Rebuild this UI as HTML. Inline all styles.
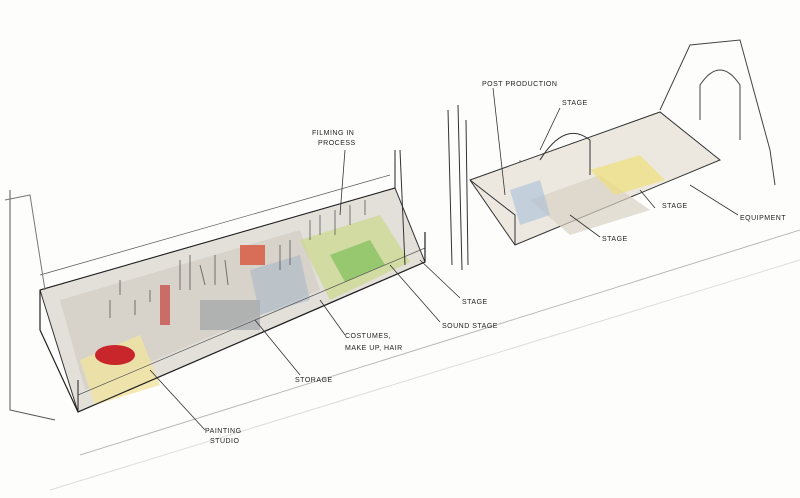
<!DOCTYPE html>
<html><head><meta charset="utf-8"><style>
html,body{margin:0;padding:0;background:#fff;width:800px;height:498px;overflow:hidden}
svg text{font-family:"Liberation Sans",sans-serif;font-size:7px;fill:#222;letter-spacing:0.5px}
</style></head><body>
<svg width="800" height="498" viewBox="0 0 800 498" xmlns="http://www.w3.org/2000/svg">
<rect width="800" height="498" fill="#fdfdfc"/>
<!-- left building floor -->
<polygon points="40,290 395,188 425,262 78,412" fill="#e3e0da" stroke="#333" stroke-width="1"/>
<polygon points="60,300 300,230 320,290 85,390" fill="#cfcac2" opacity="0.6"/>
<polygon points="300,240 380,215 410,262 330,300" fill="#c9d98a" opacity="0.7"/>
<polygon points="330,255 370,240 385,265 345,282" fill="#7fbf5a" opacity="0.7"/>
<polygon points="80,360 140,335 160,385 95,405" fill="#f1e3a0" opacity="0.8"/>
<ellipse cx="115" cy="355" rx="20" ry="10" fill="#c8262a"/>
<rect x="240" y="245" width="25" height="20" fill="#d8553a" opacity="0.8"/>
<rect x="160" y="285" width="10" height="40" fill="#c8403a" opacity="0.7"/>
<rect x="200" y="300" width="60" height="30" fill="#8a8f97" opacity="0.5"/>
<polygon points="250,270 300,255 310,300 260,315" fill="#9fb4c8" opacity="0.5"/>
<!-- scribble detail -->
<g stroke="#444" stroke-width="1" fill="none" opacity="0.7">
<path d="M180,260 l0,30 M190,255 l0,35 M200,265 l5,20 M215,255 l0,30 M225,260 l3,25"/>
<path d="M280,245 l0,25 M290,240 l0,25 M310,220 l0,20 M320,215 l0,20 M335,210 l0,25 M350,205 l0,20 M365,200 l0,15"/>
<path d="M120,280 l0,15 M135,300 l0,15 M110,300 l0,18 M150,290 l0,12"/>
<path d="M520,160 l0,30 M560,150 l0,25 M600,140 l0,25 M630,135 l0,20"/>
</g>
<!-- fence lines -->
<g stroke="#555" stroke-width="0.7" fill="none">
<path d="M40,275 L390,175"/>
<path d="M78,395 L425,248"/>
</g>
<!-- left walls -->
<polyline points="40,290 40,330 78,412 425,262 425,232" fill="none" stroke="#222" stroke-width="1.2"/>
<polyline points="40,290 395,188 395,150" fill="none" stroke="#222" stroke-width="1"/>
<line x1="78" y1="412" x2="78" y2="380" stroke="#222"/>
<!-- left outer building -->
<polyline points="10,190 10,410 55,420" fill="none" stroke="#555"/>
<polyline points="5,200 30,195 45,290" fill="none" stroke="#777"/>
<!-- towers between -->
<line x1="400" y1="150" x2="405" y2="265" stroke="#333"/>
<line x1="448" y1="110" x2="452" y2="265" stroke="#333"/>
<line x1="458" y1="105" x2="462" y2="270" stroke="#333"/>
<line x1="466" y1="120" x2="468" y2="265" stroke="#333"/>
<!-- right building -->
<polygon points="470,180 660,112 720,160 515,245" fill="#ece8e0" stroke="#333"/>
<polygon points="530,200 600,175 650,210 570,235" fill="#d9d2c4" opacity="0.7"/>
<polygon points="590,170 640,155 665,180 615,195" fill="#f0e07a" opacity="0.7"/>
<polygon points="510,190 540,180 550,215 520,225" fill="#a8c0d8" opacity="0.6"/>
<polyline points="515,245 515,215 470,180" fill="none" stroke="#333"/>
<path d="M540,160 Q565,120 590,140 L590,175" fill="none" stroke="#333"/>
<!-- far right church -->
<path d="M660,110 L690,45 L740,40 L770,150 L775,185" fill="none" stroke="#444"/>
<path d="M700,120 L700,85 Q720,55 740,85 L740,140" fill="none" stroke="#444"/>
<!-- street -->
<line x1="80" y1="455" x2="800" y2="230" stroke="#bbb"/>
<line x1="50" y1="490" x2="800" y2="260" stroke="#ddd"/>
<!-- leaders -->
<g stroke="#333" fill="none" stroke-width="0.8">
<path d="M345,150 L340,215"/>
<path d="M493,88 L505,195"/>
<path d="M560,108 L540,150"/>
<path d="M600,237 L570,215"/>
<path d="M655,208 L640,190"/>
<path d="M738,215 L690,185"/>
<path d="M460,298 L420,260"/>
<path d="M440,322 L390,265"/>
<path d="M345,335 L320,300"/>
<path d="M300,375 L255,320"/>
<path d="M205,430 L150,370"/>
</g>
<text x="312" y="135">FILMING IN</text>
<text x="318" y="145">PROCESS</text>
<text x="482" y="86">POST PRODUCTION</text>
<text x="562" y="105">STAGE</text>
<text x="662" y="208">STAGE</text>
<text x="740" y="220">EQUIPMENT</text>
<text x="602" y="241">STAGE</text>
<text x="462" y="304">STAGE</text>
<text x="442" y="328">SOUND STAGE</text>
<text x="345" y="338">COSTUMES,</text>
<text x="345" y="350">MAKE UP, HAIR</text>
<text x="295" y="382">STORAGE</text>
<text x="205" y="433">PAINTING</text>
<text x="210" y="443">STUDIO</text>
</svg>
</body></html>
